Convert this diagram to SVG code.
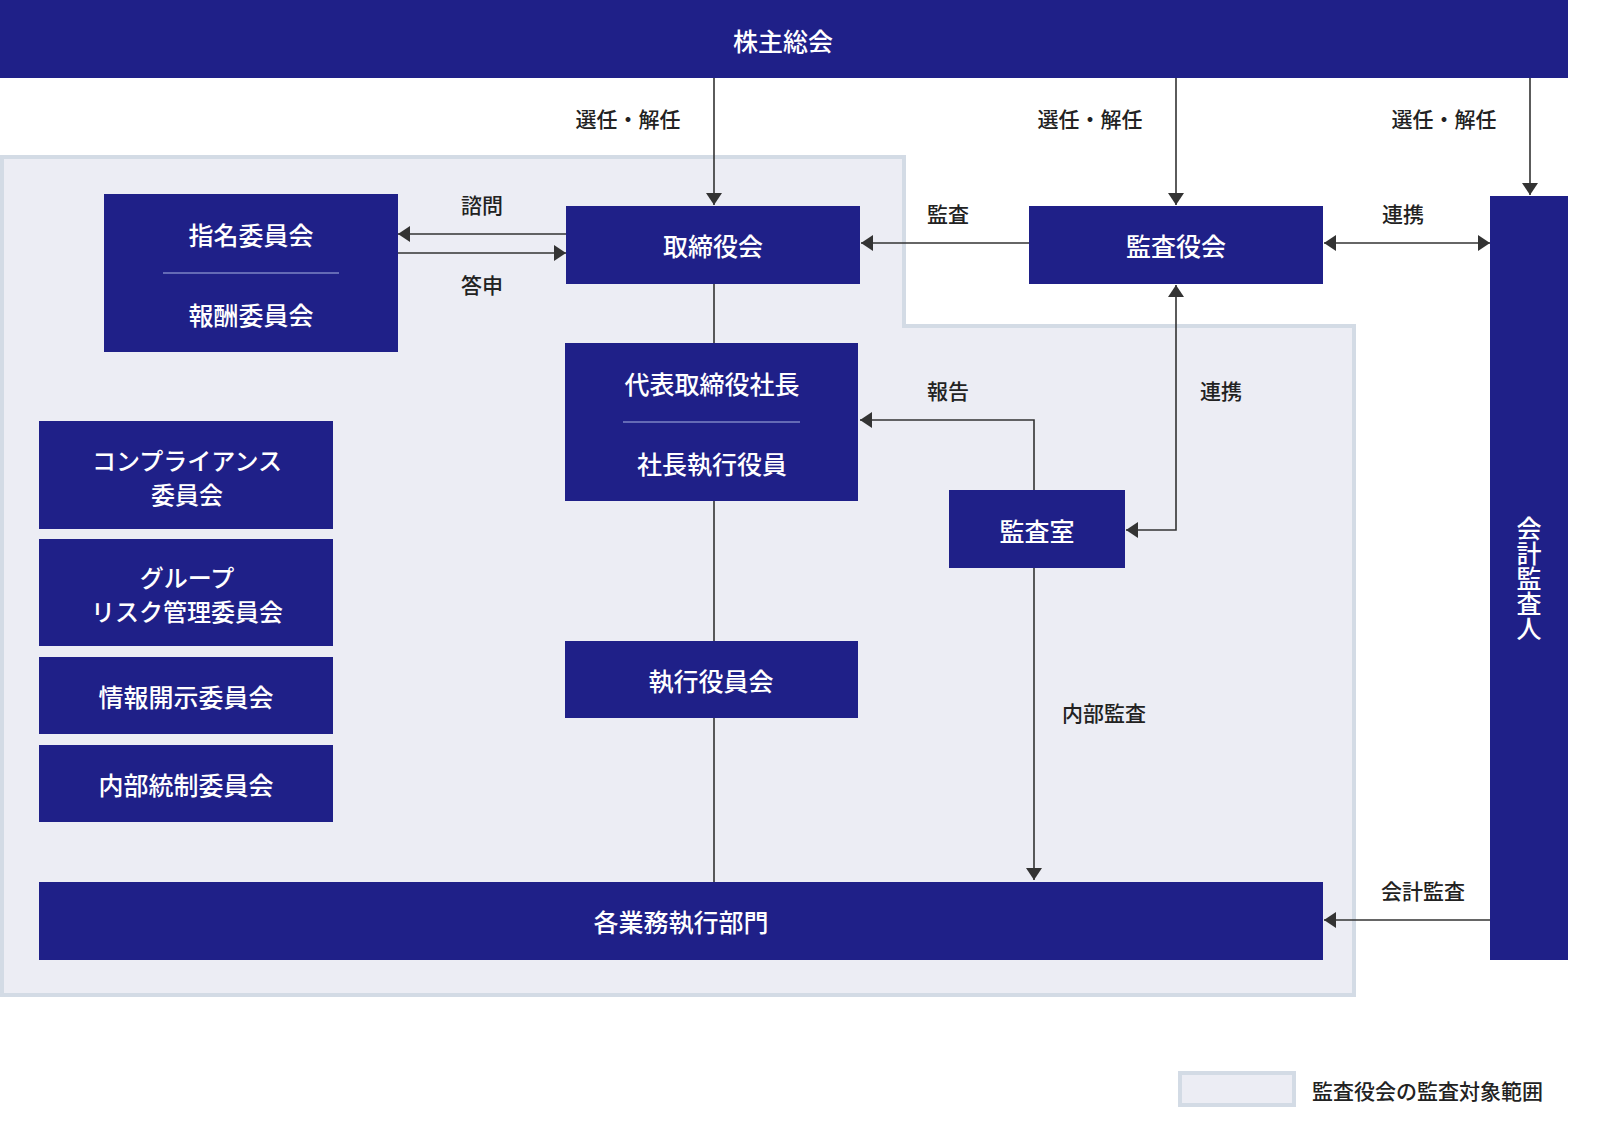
<svg xmlns="http://www.w3.org/2000/svg" width="1600" height="1130" viewBox="0 0 1600 1130">
<style>
.n{fill:#1f2088}
.t{fill:#fff;font-family:"Noto Sans CJK JP","Noto Sans",sans-serif;font-size:25px;font-weight:500;text-anchor:middle;dominant-baseline:central}
.s{font-size:24px}
.l{fill:#222;font-family:"Noto Sans CJK JP","Noto Sans",sans-serif;font-size:21px;font-weight:500;text-anchor:middle;dominant-baseline:central}
.c{stroke:#333;stroke-width:1.6;fill:none}
.d{stroke:#7d83c4;stroke-width:1.5}
</style>
<defs>
<marker id="a" viewBox="0 0 12 16" refX="12" refY="8" markerWidth="12" markerHeight="16" markerUnits="userSpaceOnUse" orient="auto-start-reverse"><path d="M0,0L12,8L0,16Z" fill="#333"/></marker>
</defs>
<rect width="1600" height="1130" fill="#fff"/>
<path id="region" d="M2,157H904V326H1354V995H2Z" fill="#ecedf4" stroke="#d3dbe5" stroke-width="4"/>
<g id="connectors">
<path class="c" d="M714,78V205" marker-end="url(#a)"/>
<path class="c" d="M1176,78V205" marker-end="url(#a)"/>
<path class="c" d="M1530,78V195" marker-end="url(#a)"/>
<path class="c" d="M566,234H398" marker-end="url(#a)"/>
<path class="c" d="M398,253H566" marker-end="url(#a)"/>
<path class="c" d="M1029,243H861" marker-end="url(#a)"/>
<path class="c" d="M1324,243H1490" marker-start="url(#a)" marker-end="url(#a)"/>
<path class="c" d="M714,284V343M714,501V641M714,718V882"/>
<path class="c" d="M1034,490V420H860" marker-end="url(#a)"/>
<path class="c" d="M1176,285V530H1126" marker-start="url(#a)" marker-end="url(#a)"/>
<path class="c" d="M1034,568V880" marker-end="url(#a)"/>
<path class="c" d="M1490,920H1324" marker-end="url(#a)"/>
<text class="l" x="628" y="118">選任・解任</text>
<text class="l" x="1090" y="118">選任・解任</text>
<text class="l" x="1444" y="118">選任・解任</text>
<text class="l" x="482" y="204">諮問</text>
<text class="l" x="482" y="284">答申</text>
<text class="l" x="948" y="213">監査</text>
<text class="l" x="1403" y="213">連携</text>
<text class="l" x="948" y="390">報告</text>
<text class="l" x="1221" y="390">連携</text>
<text class="l" x="1104" y="712">内部監査</text>
<text class="l" x="1423" y="890">会計監査</text>
</g>
<g id="agm"><rect class="n" x="0" y="0" width="1568" height="78"/><text class="t" x="783" y="40">株主総会</text></g>
<g id="nom"><rect class="n" x="104" y="194" width="294" height="158"/><line class="d" x1="163" y1="273" x2="339" y2="273"/><text class="t" x="251" y="234">指名委員会</text><text class="t" x="251" y="314">報酬委員会</text></g>
<g id="board"><rect class="n" x="566" y="206" width="294" height="78"/><text class="t" x="713" y="245">取締役会</text></g>
<g id="kansayaku"><rect class="n" x="1029" y="206" width="294" height="78"/><text class="t" x="1176" y="245">監査役会</text></g>
<g id="auditor"><rect class="n" x="1490" y="196" width="78" height="764"/><text class="t" x="1529" y="578" style="writing-mode:vertical-rl;dominant-baseline:auto">会計監査人</text></g>
<g id="ceo"><rect class="n" x="565" y="343" width="293" height="158"/><line class="d" x1="623" y1="422" x2="800" y2="422"/><text class="t" x="712" y="383">代表取締役社長</text><text class="t" x="712" y="463">社長執行役員</text></g>
<g id="kansashitsu"><rect class="n" x="949" y="490" width="176" height="78"/><text class="t" x="1037" y="530">監査室</text></g>
<g id="comp"><rect class="n" x="39" y="421" width="294" height="108"/><text class="t s" x="187" y="459">コンプライアンス</text><text class="t s" x="187" y="493">委員会</text></g>
<g id="risk"><rect class="n" x="39" y="539" width="294" height="107"/><text class="t s" x="187" y="576">グループ</text><text class="t s" x="187" y="610">リスク管理委員会</text></g>
<g id="info"><rect class="n" x="39" y="657" width="294" height="77"/><text class="t" x="186" y="696">情報開示委員会</text></g>
<g id="ic"><rect class="n" x="39" y="745" width="294" height="77"/><text class="t" x="186" y="784">内部統制委員会</text></g>
<g id="exec"><rect class="n" x="565" y="641" width="293" height="77"/><text class="t" x="711" y="680">執行役員会</text></g>
<g id="dept"><rect class="n" x="39" y="882" width="1284" height="78"/><text class="t" x="681" y="921">各業務執行部門</text></g>
<g id="legend"><rect x="1180" y="1073" width="114" height="32" fill="#ecedf4" stroke="#d3dbe5" stroke-width="4"/><text class="l" x="1312" y="1090" style="text-anchor:start">監査役会の監査対象範囲</text></g>
</svg>
